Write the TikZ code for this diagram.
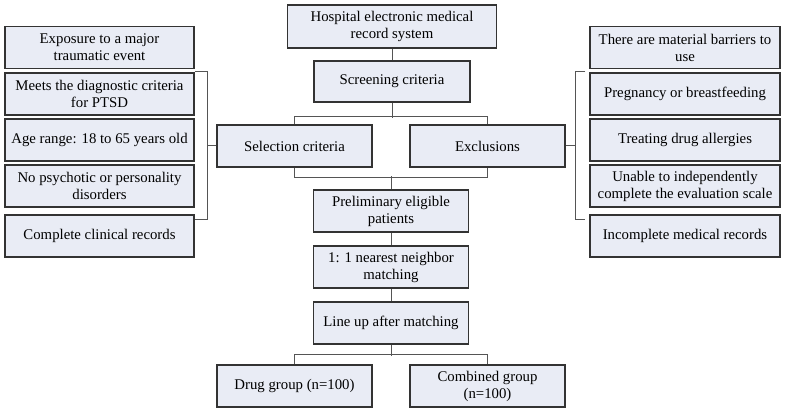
\documentclass[tikz,border=0pt]{standalone}
\usepackage{fontspec}
\setmainfont{Liberation Serif}
\newfontfamily\boxfont{Liberation Serif}
\definecolor{boxfill}{HTML}{E9ECF5}
\definecolor{boxline}{HTML}{333333}
\definecolor{linkgray}{HTML}{555555}
\tikzset{
  box/.style={draw=boxline, line width=1.2pt, fill=boxfill, align=center,
    inner sep=1pt, minimum width=155pt, minimum height=42pt,
    font=\boxfont\fontsize{14.8}{17}\selectfont},
  link/.style={draw=linkgray, line width=1pt}
}
\begin{document}
\begin{tikzpicture}[x=1pt, y=-1pt]
  \useasboundingbox[fill=white] (0,0) rectangle (788,414);
  % Mitte: Ablauf von oben nach unten
  \node[box, minimum width=209pt, minimum height=43pt] (hosp) at (392,26.5) {Hospital electronic medical\\record system};
  \node[box, minimum width=156pt, minimum height=41pt] (screen) at (392,81.5) {Screening criteria};
  \node[box] (sel) at (294.5,146) {Selection criteria};
  \node[box] (excl) at (487.5,146) {Exclusions};
  \node[box] (prelim) at (391,211) {Preliminary eligible\\patients};
  \node[box] (match) at (391,267) {1: 1 nearest neighbor\\matching};
  \node[box] (lineup) at (391,323) {Line up after matching};
  \node[box] (drug) at (294.5,386) {Drug group (n=100)};
  \node[box] (comb) at (487.5,386) {Combined group\\(n=100)};
  % linke Spalte: Einschlusskriterien
  \foreach \y/\t [count=\i] in {47.5/{Exposure to a major\\traumatic event},
      94/{Meets the diagnostic criteria\\for PTSD},
      140/{Age range: 18 to 65 years old},
      186/{No psychotic or personality\\disorders},
      236/{Complete clinical records}}{
    \node[box, minimum width=189pt] (l\i) at (99.5,\y) {\t};
  }
  % rechte Spalte: Ausschlusskriterien
  \foreach \y/\t [count=\i] in {47.5/{There are material barriers to\\use},
      94/{Pregnancy or breastfeeding},
      140/{Treating drug allergies},
      186/{Unable to independently\\complete the evaluation scale},
      236/{Incomplete medical records}}{
    \node[box, minimum width=190pt] (r\i) at (685,\y) {\t};
  }
  % Verbindungen
  \draw[link] (hosp) -- (screen);
  \draw[link] (screen.south) -- ++(0,15) coordinate (split);
  \draw[link] (sel.north) -- ++(0,-8) -| (excl.north);
  \draw[link] (sel.south) -- ++(0,10) -| (excl.south);
  \draw[link] (prelim.north) -- ++(0,-13);
  \draw[link] (prelim) -- (match);
  \draw[link] (match) -- (lineup);
  \draw[link] (lineup.south) -- ++(0,11);
  \draw[link] (drug.north) -- ++(0,-10) -| (comb.north);
  % Klammern zu den Spalten
  \draw[link] ([yshift=1pt]l2.north east) -- ++(13,0) coordinate (lb) |- ([yshift=-5pt]l5.north east);
  \draw[link] (sel.west) -- (sel.west -| lb);
  \draw[link] ([xshift=-4pt,yshift=1pt]r2.north west) -- ++(-10,0) coordinate (rb) |- ([xshift=-4pt,yshift=-5pt]r5.north west);
  \draw[link] (excl.east) -- (excl.east -| rb);
\end{tikzpicture}
\end{document}
